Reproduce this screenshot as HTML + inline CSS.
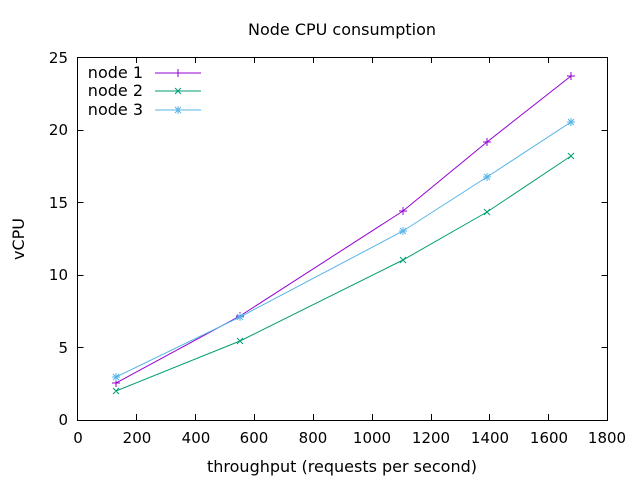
<!DOCTYPE html>
<html><head><style>body{margin:0;background:#fff}svg{display:block}text{font-family:"DejaVu Sans","Liberation Sans",sans-serif;font-size:16px;fill:#000}.t{font-size:15px}</style></head>
<body>
<svg width="640" height="480" xmlns="http://www.w3.org/2000/svg">
<rect width="640" height="480" fill="#fff"/>
<text x="342" y="35" text-anchor="middle">Node CPU consumption</text>
<g stroke="#000" stroke-width="1" fill="none">
<rect x="77.5" y="57.5" width="530" height="363"/>
<path d="M77.5 347.5h6M607.5 347.5h-6M77.5 275.5h6M607.5 275.5h-6M77.5 202.5h6M607.5 202.5h-6M77.5 130.5h6M607.5 130.5h-6
M136.5 420v-6M136.5 57v6M195.5 420v-6M195.5 57v6M254.5 420v-6M254.5 57v6M313.5 420v-6M313.5 57v6M372.5 420v-6M372.5 57v6M431.5 420v-6M431.5 57v6M489.5 420v-6M489.5 57v6M548.5 420v-6M548.5 57v6"/>
</g>
<g text-anchor="end">
<text class="t" x="68" y="425">0</text><text class="t" x="68" y="353">5</text><text class="t" x="68" y="280">10</text><text class="t" x="68" y="208">15</text><text class="t" x="68" y="135">20</text><text class="t" x="68" y="63">25</text>
</g>
<g text-anchor="middle">
<text class="t" x="78" y="443">0</text><text class="t" x="137" y="443">200</text><text class="t" x="196" y="443">400</text><text class="t" x="254" y="443">600</text><text class="t" x="313" y="443">800</text><text class="t" x="372" y="443">1000</text><text class="t" x="431" y="443">1200</text><text class="t" x="490" y="443">1400</text><text class="t" x="549" y="443">1600</text><text class="t" x="607" y="443">1800</text>
</g>
<text x="342" y="472" text-anchor="middle">throughput (requests per second)</text>
<text transform="translate(24 239) rotate(-90)" text-anchor="middle">vCPU</text>
<g text-anchor="end"><text x="143" y="78">node 1</text><text x="143" y="96">node 2</text><text x="143" y="115">node 3</text></g>
<g fill="none" stroke-width="1">
<g stroke="#9400d3"><path d="M155 73h46"/><polyline points="116,383 240,316 403,211 487,142 571,76"/>
<path d="M174 73h8M178 69v8M112 383h8M116 379v8M236 316h8M240 312v8M399 211h8M403 207v8M483 142h8M487 138v8M567 76h8M571 72v8"/></g>
<g stroke="#009e73"><path d="M155 91h46"/><polyline points="116,391 240,341 403,260 487,212 571,156"/>
<path d="M175 88l6 6M181 88l-6 6M113 388l6 6M119 388l-6 6M237 338l6 6M243 338l-6 6M400 257l6 6M406 257l-6 6M484 209l6 6M490 209l-6 6M568 153l6 6M574 153l-6 6"/></g>
<g stroke="#56b4e9"><path d="M155 110h46"/><polyline points="116,377 240,317 403,231 487,177 571,122"/>
<path d="M174 110h8M178 106v8M175 107l6 6M181 107l-6 6
M112 377h8M116 373v8M113 374l6 6M119 374l-6 6
M236 317h8M240 313v8M237 314l6 6M243 314l-6 6
M399 231h8M403 227v8M400 228l6 6M406 228l-6 6
M483 177h8M487 173v8M484 174l6 6M490 174l-6 6
M567 122h8M571 118v8M568 119l6 6M574 119l-6 6"/></g>
</g>
</svg>
</body></html>
